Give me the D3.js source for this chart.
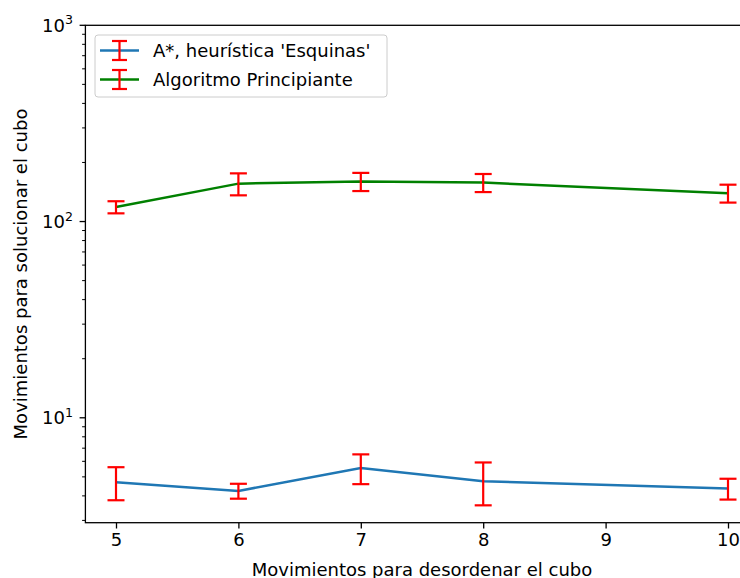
<!DOCTYPE html>
<html>
<head>
<meta charset="utf-8">
<script src="https://cdn.jsdelivr.net/npm/d3@7"></script>
<style>
  body { margin: 0; background: #fff; }
  svg { display: block; font-family: 'DejaVu Sans', sans-serif; }
</style>
</head>
<body>
<svg width="740" height="578"></svg>
<script>
// data
const steps = [5, 6, 7, 8, 10];
const esquinasMean = [4.7, 4.24, 5.55, 4.75, 4.36];
const esquinasErr = [0.9, 0.37, 0.96, 1.17, 0.53];
const principianteMean = [118.5, 156, 160, 158, 139.5];
const principianteErr = [8.4, 20, 17, 16.7, 14.6];
const xTicks = [5, 6, 7, 8, 9, 10];
const yMajor = [10, 100, 1000];
const seriesNames = ["A*, heurística 'Esquinas'", 'Algoritmo Principiante'];
const seriesColors = ['#1f77b4', 'green'];

const svg = d3.select('svg');
const fs = 18;

const plotLeft = 85.4, plotRight = 758.6, plotTop = 25.3, plotBottom = 522.7;

const x = d3.scaleLinear().domain([4.75, 10.25]).range([plotLeft, plotRight]);
const y = d3.scaleLog().domain([2.92, 1000]).range([plotBottom, plotTop]);

const series = [
  { name: seriesNames[0], color: seriesColors[0], mean: esquinasMean, err: esquinasErr },
  { name: seriesNames[1], color: seriesColors[1], mean: principianteMean, err: principianteErr },
];

// x axis
const xAxis = svg.append('g')
  .attr('transform', `translate(0,${plotBottom})`)
  .call(d3.axisBottom(x).tickValues(xTicks).tickFormat(d3.format('d')).tickSize(5.8).tickPadding(5));
xAxis.select('.domain').remove();
xAxis.selectAll('line').attr('stroke', '#000').attr('stroke-width', 1.3);
xAxis.selectAll('text').attr('font-size', fs).attr('fill', '#000').attr('font-family', 'DejaVu Sans');

// y axis, log scale with minor ticks
const minor = y.ticks().filter(v => !yMajor.includes(v));
svg.append('g').selectAll('line.minor')
  .data(minor)
  .enter().append('line')
  .attr('x1', plotLeft - 3.3).attr('x2', plotLeft)
  .attr('y1', d => y(d)).attr('y2', d => y(d))
  .attr('stroke', '#000').attr('stroke-width', 1);

svg.append('g').selectAll('line.major')
  .data(yMajor)
  .enter().append('line')
  .attr('x1', plotLeft - 5.8).attr('x2', plotLeft)
  .attr('y1', d => y(d)).attr('y2', d => y(d))
  .attr('stroke', '#000').attr('stroke-width', 1.3);

const yLab = svg.append('g').selectAll('text')
  .data(yMajor)
  .enter().append('text')
  .attr('x', 73)
  .attr('y', d => y(d) + 6.5)
  .attr('text-anchor', 'end')
  .attr('font-size', fs)
  .attr('fill', '#000');
yLab.append('tspan').text('10');
yLab.append('tspan')
  .attr('font-size', fs * 0.7)
  .attr('dy', -7.5)
  .text(d => Math.round(Math.log10(d)));

// spines
svg.append('rect')
  .attr('x', plotLeft).attr('y', plotTop)
  .attr('width', plotRight - plotLeft).attr('height', plotBottom - plotTop)
  .attr('fill', 'none').attr('stroke', '#000').attr('stroke-width', 1.3);

// lines
const line = d3.line()
  .x((d, i) => x(steps[i]))
  .y(d => y(d));

series.forEach(s => {
  svg.append('path')
    .datum(s.mean)
    .attr('d', line)
    .attr('fill', 'none')
    .attr('stroke', s.color)
    .attr('stroke-width', 2.5);
});

// error bars
const cap = 8.5;
series.forEach(s => {
  const g = svg.append('g').attr('stroke', 'red').attr('stroke-width', 2.2);
  s.mean.forEach((m, i) => {
    const cx = x(steps[i]);
    const y0 = y(m - s.err[i]);
    const y1 = y(m + s.err[i]);
    g.append('line').attr('x1', cx).attr('x2', cx).attr('y1', y0).attr('y2', y1);
    g.append('line').attr('x1', cx - cap).attr('x2', cx + cap).attr('y1', y0).attr('y2', y0);
    g.append('line').attr('x1', cx - cap).attr('x2', cx + cap).attr('y1', y1).attr('y2', y1);
  });
});

// legend
const legend = svg.append('g');
legend.append('rect')
  .attr('x', 95).attr('y', 35)
  .attr('width', 292).attr('height', 62)
  .attr('rx', 3)
  .attr('fill', '#fff').attr('fill-opacity', 0.8)
  .attr('stroke', '#cccccc').attr('stroke-width', 1);

series.forEach((s, i) => {
  const cy = 50.5 + i * 29;
  const g = legend.append('g');
  g.append('line')
    .attr('x1', 100).attr('x2', 139).attr('y1', cy).attr('y2', cy)
    .attr('stroke', s.color).attr('stroke-width', 2.5);
  g.append('line')
    .attr('x1', 119.5).attr('x2', 119.5).attr('y1', cy - 9.5).attr('y2', cy + 9.5)
    .attr('stroke', 'red').attr('stroke-width', 2.2);
  [cy - 9.5, cy + 9.5].forEach(v => {
    g.append('line')
      .attr('x1', 112).attr('x2', 127).attr('y1', v).attr('y2', v)
      .attr('stroke', 'red').attr('stroke-width', 2.2);
  });
  g.append('text')
    .attr('x', 153).attr('y', cy + 6.5)
    .attr('font-size', fs)
    .attr('fill', '#000')
    .text(s.name);
});

// axis labels
svg.append('text')
  .attr('x', (plotLeft + plotRight) / 2)
  .attr('y', 576)
  .attr('text-anchor', 'middle')
  .attr('font-size', fs)
  .text('Movimientos para desordenar el cubo');

svg.append('text')
  .attr('transform', `translate(27,${(plotTop + plotBottom) / 2}) rotate(-90)`)
  .attr('text-anchor', 'middle')
  .attr('font-size', fs)
  .text('Movimientos para solucionar el cubo');
</script>
</body>
</html>
